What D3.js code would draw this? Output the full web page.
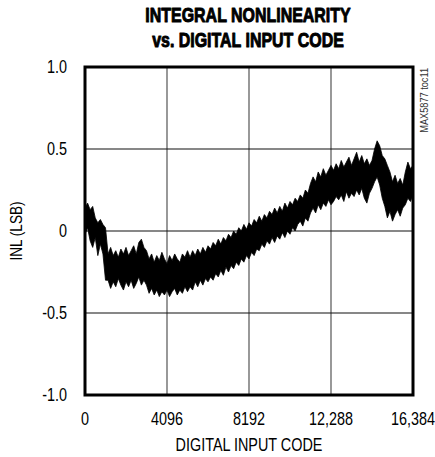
<!DOCTYPE html>
<html><head><meta charset="utf-8">
<script src="https://cdn.jsdelivr.net/npm/d3@7"></script>
<style>body{margin:0;background:#fff;}svg{display:block;}</style>
</head><body>
<script>
const title = ["INTEGRAL NONLINEARITY", "vs. DIGITAL INPUT CODE"];
const xTicks = [0, 4096, 8192, 12288, 16384];
const xTickLabels = ["0", "4096", "8192", "12,288", "16,384"];
const yTicks = [1.0, 0.5, 0, -0.5, -1.0];
const yTickLabels = ["1.0", "0.5", "0", "-0.5", "-1.0"];
const xLabel = "DIGITAL INPUT CODE";
const yLabel = "INL (LSB)";
const tag = "MAX5877 toc11";
const codeStep = 128;
// upper edge of the INL trace, one value per 128 codes
const inlHigh = [
 0.14,0.17,0.13,0.15,0.08,0.05,0.07,0.04,
 0.02,
 -0.14,-0.10,-0.15,-0.12,-0.16,-0.11,-0.14,-0.10,-0.15,-0.12,-0.09,-0.14,-0.07,-0.05,-0.10,
 -0.12,-0.17,-0.14,-0.19,-0.15,-0.18,-0.13,-0.17,-0.20,-0.15,-0.18,-0.14,-0.17,-0.19,-0.14,-0.16,-0.12,
 -0.16,-0.12,-0.15,-0.11,-0.14,-0.10,-0.13,-0.09,
 -0.11,-0.07,-0.09,-0.05,-0.08,-0.04,-0.06,-0.02,
 -0.04,0.00,-0.02,0.02,0.00,0.04,0.01,0.05,
 0.03,0.07,0.05,0.09,0.06,0.10,0.08,0.12,
 0.10,0.14,0.11,0.15,0.12,0.17,0.14,0.18,
 0.16,0.20,0.18,0.22,0.20,0.25,0.23,0.29,
 0.33,0.30,0.36,0.33,0.38,0.34,0.37,0.40,
 0.37,0.41,0.38,0.43,0.39,0.42,0.45,0.40,
 0.44,0.48,0.42,0.46,0.41,0.44,0.40,0.43,
 0.50,0.55,0.52,0.46,
 0.44,0.40,0.36,0.30,0.34,0.29,0.32,0.28,
 0.36,0.42,0.38,0.40
];
// lower edge of the INL trace
const inlLow = [
 -0.02,0.02,-0.06,-0.10,-0.04,-0.15,-0.08,-0.14,
 -0.30,
 -0.30,-0.35,-0.31,-0.34,-0.29,-0.33,-0.36,-0.31,-0.34,-0.30,-0.35,-0.32,-0.28,-0.33,-0.30,
 -0.33,-0.38,-0.35,-0.39,-0.36,-0.40,-0.37,-0.39,-0.36,-0.40,-0.37,-0.35,-0.39,-0.36,-0.38,-0.34,-0.37,
 -0.34,-0.36,-0.31,-0.34,-0.30,-0.33,-0.29,-0.31,
 -0.28,-0.30,-0.26,-0.28,-0.24,-0.27,-0.22,-0.25,
 -0.21,-0.23,-0.19,-0.21,-0.17,-0.19,-0.15,-0.17,
 -0.13,-0.15,-0.11,-0.12,-0.08,-0.10,-0.06,-0.08,
 -0.04,-0.07,-0.03,-0.05,-0.01,-0.04,0.00,-0.02,
 0.02,0.00,0.04,0.06,0.03,0.08,0.06,0.11,
 0.14,0.11,0.16,0.13,0.17,0.15,0.19,0.16,
 0.18,0.21,0.19,0.22,0.18,0.24,0.20,0.23,
 0.21,0.25,0.22,0.26,0.20,0.17,0.23,0.26,
 0.30,0.33,0.28,0.20,
 0.15,0.08,0.12,0.06,0.10,0.13,0.09,0.14,
 0.16,0.20,0.18,0.22
];

const W = 435, H = 457;
const m = {left: 85, right: 413, top: 67, bottom: 395};
const svg = d3.select("body").append("svg").attr("width", W).attr("height", H);
const x = d3.scaleLinear().domain([0, 16384]).range([m.left, m.right]);
const y = d3.scaleLinear().domain([-1, 1]).range([m.bottom, m.top]);
const font = "'Liberation Sans',Arial,sans-serif";
const NARROW = 0.8;

function narrowText(parent, tx, ty, str, opts) {
  const o = Object.assign({size: 17, anchor: "middle", rotate: 0, sx: NARROW, weight: "normal", fill: "#000"}, opts || {});
  const g = parent.append("g").attr("transform", `translate(${tx},${ty}) rotate(${o.rotate}) scale(${o.sx},1)`);
  const t = g.append("text").attr("text-anchor", o.anchor).attr("font-family", font)
    .attr("font-size", o.size).attr("font-weight", o.weight).attr("fill", o.fill).text(str);
  if (o.stroke) t.attr("stroke", o.fill).attr("stroke-width", o.stroke).attr("stroke-linejoin", "round");
  return t;
}

// grid
svg.append("g").selectAll("line").data(xTicks.slice(1, -1)).join("line")
  .attr("x1", d => x(d)).attr("x2", d => x(d)).attr("y1", m.top).attr("y2", m.bottom)
  .attr("stroke", "#444").attr("stroke-width", 1.1);
svg.append("g").selectAll("line").data(yTicks.slice(1, -1)).join("line")
  .attr("y1", d => y(d)).attr("y2", d => y(d)).attr("x1", m.left).attr("x2", m.right)
  .attr("stroke", "#111").attr("stroke-width", 1.1);

// data trace
const pts = inlHigh.map((h, i) => ({c: i * codeStep, h, l: inlLow[i]}));
const area = d3.area().x(d => x(d.c)).y0(d => y(d.l)).y1(d => y(d.h));
svg.append("path").datum(pts).attr("d", area)
  .attr("fill", "#000").attr("stroke", "#000").attr("stroke-width", 0.8).attr("stroke-linejoin", "miter");

// frame
svg.append("rect").attr("x", m.left).attr("y", m.top)
  .attr("width", m.right - m.left).attr("height", m.bottom - m.top)
  .attr("fill", "none").attr("stroke", "#000").attr("stroke-width", 3);

// tick labels
const gx = svg.append("g");
xTicks.forEach((d, i) => narrowText(gx, x(d), 425, xTickLabels[i], {size: 18}));
const gy = svg.append("g");
yTicks.forEach((d, i) => narrowText(gy, 67, y(d) + 6, yTickLabels[i], {size: 18, anchor: "end"}));

// axis titles
narrowText(svg, (m.left + m.right) / 2, 451, xLabel, {size: 18});
narrowText(svg, 22, y(0), yLabel, {size: 17, rotate: -90});
narrowText(svg, 428, m.top + 1, tag, {size: 11.5, rotate: -90, anchor: "end", fill: "#333"});

// title
title.forEach((t, i) => {
  narrowText(svg, 248, 22 + i * 25, t, {size: 21, weight: "bold", sx: 0.76, stroke: 1});
});
</script>
</body></html>
